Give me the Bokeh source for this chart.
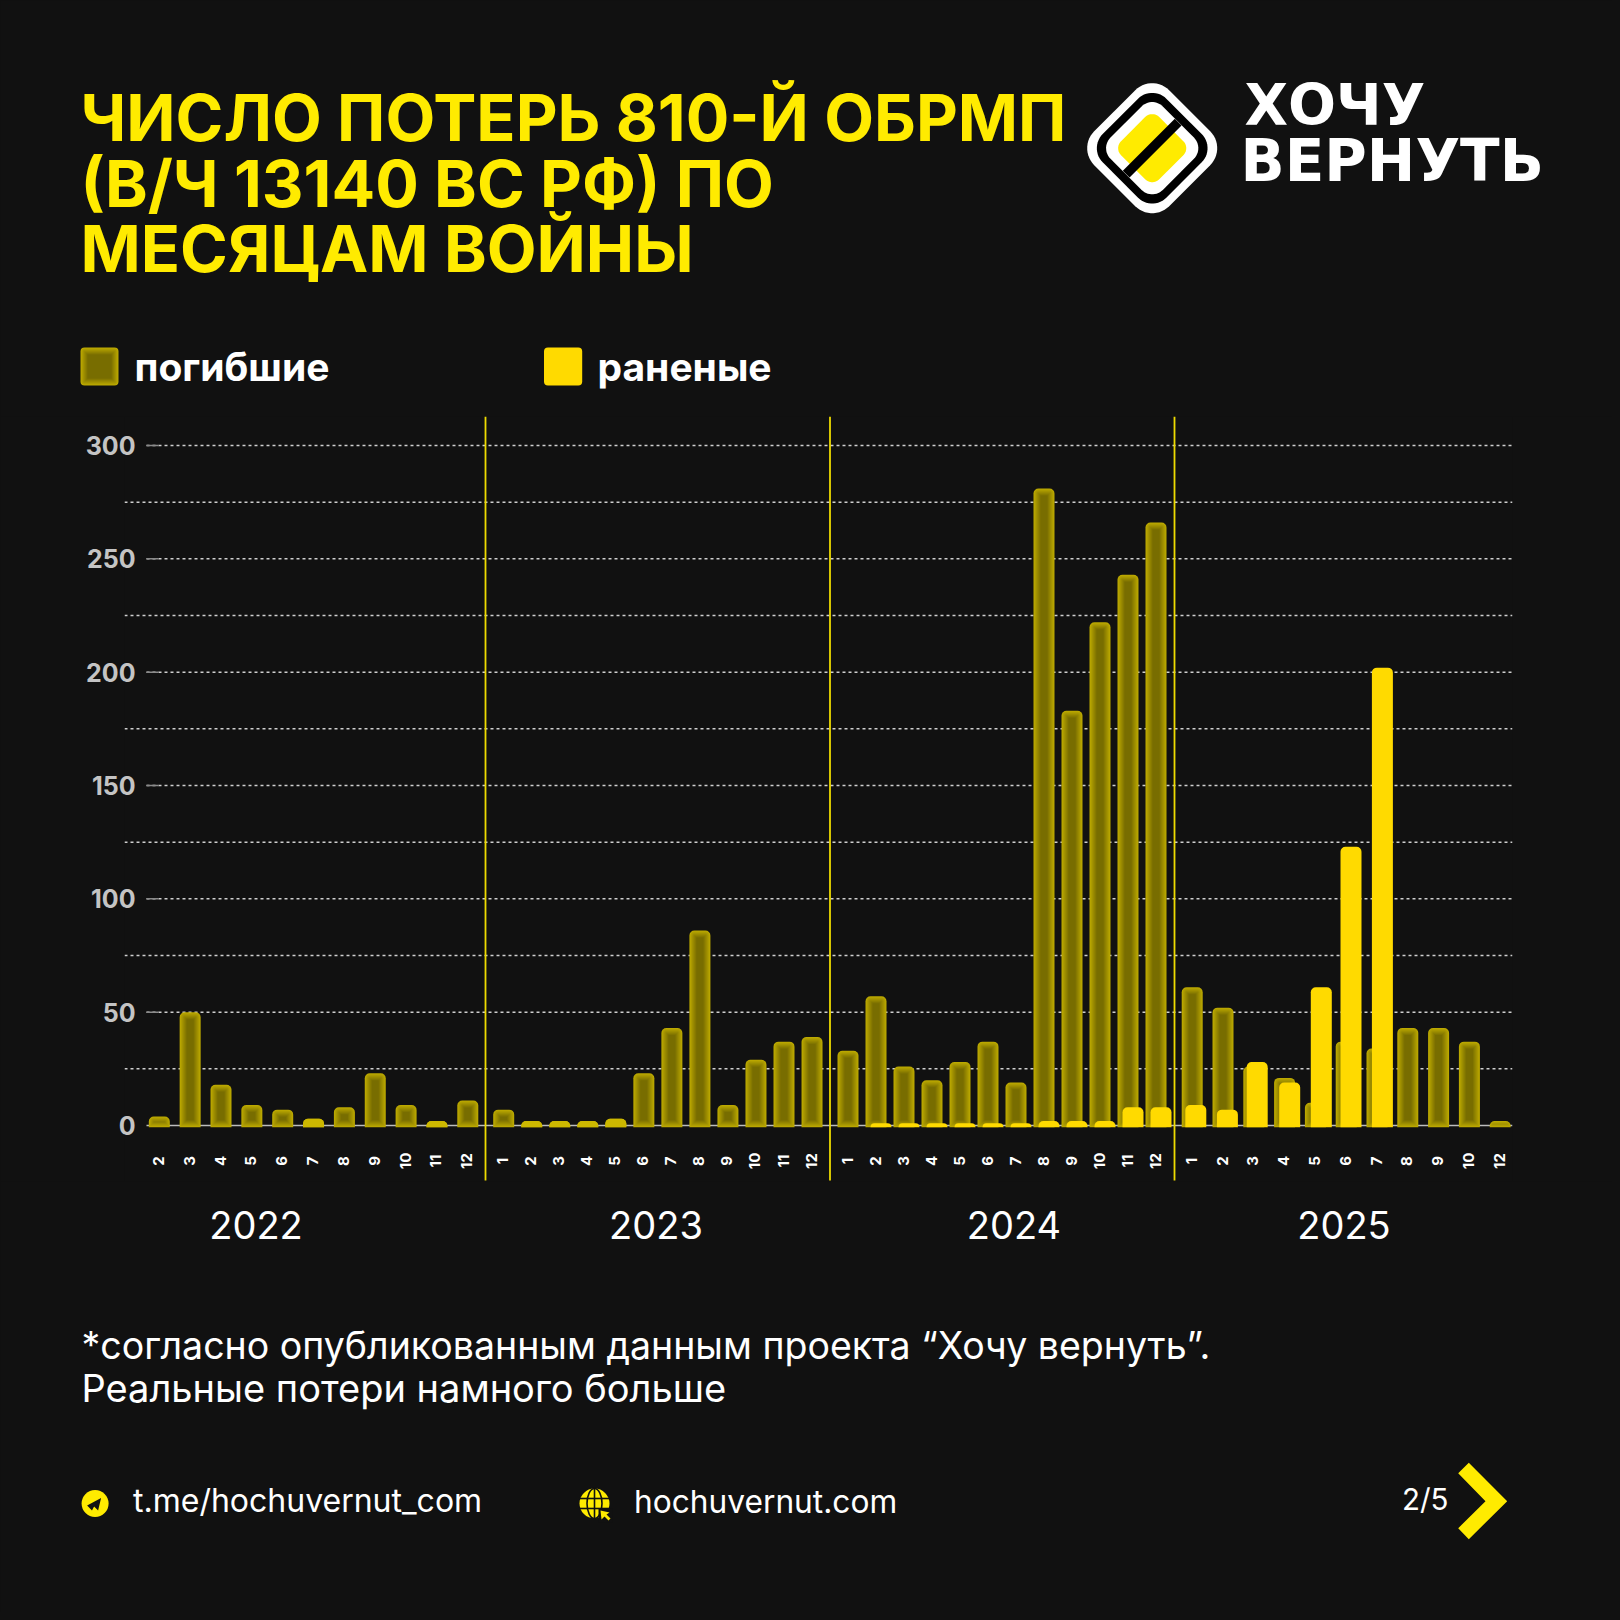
import numpy as np
from bokeh.core.properties import value
from bokeh.document import Document
from bokeh.embed import file_html
from bokeh.layouts import column, row
from bokeh.models import CustomJS, FixedTicker, LinearAxis, Range1d
from bokeh.plotting import figure
from bokeh.resources import INLINE

# ---- data ----
title_lines = ["ЧИСЛО ПОТЕРЬ 810-Й ОБРМП", "(В/Ч 13140 ВС РФ) ПО", "МЕСЯЦАМ ВОЙНЫ"]
logo_lines = ["ХОЧУ", "ВЕРНУТЬ"]
legend_labels = ["погибшие", "раненые"]
note_lines = ["*согласно опубликованным данным проекта “Хочу вернуть”.", "Реальные потери намного больше"]
footer_link1 = "t.me/hochuvernut_com"
footer_link2 = "hochuvernut.com"
page_label = "2/5"

years = [2022, 2023, 2024, 2025]
months_2022 = [2, 3, 4, 5, 6, 7, 8, 9, 10, 11, 12]
dead_2022 = [4, 50, 18, 9, 7, 3, 8, 23, 9, 2, 11]
wounded_2022 = [0, 0, 0, 0, 0, 0, 0, 0, 0, 0, 0]
months_2023 = [1, 2, 3, 4, 5, 6, 7, 8, 9, 10, 11, 12]
dead_2023 = [7, 2, 2, 2, 3, 23, 43, 86, 9, 29, 37, 39]
wounded_2023 = [0, 0, 0, 0, 0, 0, 0, 0, 0, 0, 0, 0]
months_2024 = [1, 2, 3, 4, 5, 6, 7, 8, 9, 10, 11, 12]
dead_2024 = [33, 57, 26, 20, 28, 37, 19, 281, 183, 222, 243, 266]
wounded_2024 = [0, 1, 1, 1, 1, 1, 1, 2, 2, 2, 8, 8]
months_2025 = [1, 2, 3, 4, 5, 6, 7, 8, 9, 10, 12]
dead_2025 = [61, 52, 26, 21, 10, 37, 34, 43, 43, 37, 2]
wounded_2025 = [9, 7, 28, 19, 61, 123, 202, 0, 0, 0, 0]
y_major = [0, 50, 100, 150, 200, 250, 300]
y_minor = [25, 75, 125, 175, 225, 275]

# ---- layout (reference pixels) ----
BG = "#111111"
YEL = "#FFEB00"
WOUND = "#FFDA00"
W, H0, H1, H2 = 1612, 416, 765, 431
BASE, PX = 1125.0, 2.2667
x_start = {2022: 158.8, 2023: 503.2, 2024: 847.5, 2025: 1191.7}
x_step = {2022: 30.85, 2023: 28.03, 2024: 28.0, 2025: 30.8}
wound_dx = {2024: [5] * 12, 2025: [3.6, 4.4, 3.4, 5.1, 5.9, 4.8, 5.4, 5, 5, 5, 5]}
year_cx = [256, 656, 1014, 1344]
BAR_W = 21
BASELINE_ADJ = 0.36
table = {2022: (months_2022, dead_2022, wounded_2022), 2023: (months_2023, dead_2023, wounded_2023),
         2024: (months_2024, dead_2024, wounded_2024), 2025: (months_2025, dead_2025, wounded_2025)}


def px_fig(h, top):
    f = figure(width=W, height=h, x_range=Range1d(0, W), y_range=Range1d(top + h, top),
               x_axis_type=None, y_axis_type=None, toolbar_location=None, output_backend="svg",
               background_fill_color=BG, border_fill_color=BG, outline_line_color=None, min_border=0)
    f.grid.visible = False
    return f


def txt(f, x, y, s, size, color="#FFFFFF", style="normal", align="left", font="Inter"):
    f.text(x=[x], y=[y - BASELINE_ADJ * size], text=[s], text_font=value(font), text_font_size=f"{size}px",
           text_font_style=style, text_color=color, text_align=align, text_baseline="alphabetic")


def rsq(cx, cy, half, r, rot=45):
    pts = []
    for (sx, sy, a0) in [(1, 1, 0), (-1, 1, 90), (-1, -1, 180), (1, -1, 270)]:
        t = np.radians(np.linspace(a0, a0 + 90, 14))
        pts.append(np.c_[sx * (half - r) + r * np.cos(t), sy * (half - r) + r * np.sin(t)])
    pts = np.vstack(pts)
    a = np.radians(rot)
    return cx + pts[:, 0] * np.cos(a) - pts[:, 1] * np.sin(a), cy + pts[:, 0] * np.sin(a) + pts[:, 1] * np.cos(a)


def lerp(t):
    c0, c1 = (0xBC, 0xA9, 0x00), (0x78, 0x6D, 0x00)
    return "#%02x%02x%02x" % tuple(int(a + (b - a) * t) for a, b in zip(c0, c1))


# ---- header ----
head = px_fig(H0, 0)
for line, y in zip(title_lines, [140, 206, 271]):
    txt(head, 80, y, line, 64.7, YEL, "bold")
for half, r, col in [(53, 24, "#FFFFFF"), (45, 20, "#000000"), (37, 15, "#FFFFFF"), (27, 10, YEL)]:
    xs, ys = rsq(1151.7, 147.7, half, r)
    head.patch(xs, ys, fill_color=col, line_color=None)
head.line([1151.7 - 26, 1151.7 + 26], [147.7 + 26, 147.7 - 26], line_color="#000000", line_width=9.5)
txt(head, 1244, 125.7, logo_lines[0], 56.5, "#FFFFFF", "bold", font="DejaVu Sans")
txt(head, 1240, 181.7, logo_lines[1], 58, "#FFFFFF", "bold", font="DejaVu Sans")

# legend
for k in range(8):
    d = k * 1.0
    head.quad(left=[80 + d], right=[118 - d], top=[347 + d], bottom=[385 - d],
              fill_color=lerp(k / 7), line_color=None, border_radius=max(4 - k, 0))
head.quad(left=[543.5], right=[581.7], top=[347], bottom=[385], fill_color=WOUND, line_color=None, border_radius=4)
txt(head, 134, 380, legend_labels[0], 39, "#FFFFFF", "bold")
txt(head, 597, 380, legend_labels[1], 39, "#FFFFFF", "bold")

# ---- chart ----
chart = figure(width=W, height=H1, x_range=Range1d(124, 1512),
               y_range=Range1d((BASE - 1181) / PX, (BASE - 416) / PX),
               x_axis_type=None, y_axis_type=None, toolbar_location=None, output_backend="svg",
               background_fill_color=BG, border_fill_color=BG, outline_line_color=None,
               min_border_left=124, min_border_right=W - 1512, min_border_top=0, min_border_bottom=0)
chart.grid.visible = False

DASH = "3 3"
GRID = "#CFCFCF"
chart.segment(x0=[124] * len(y_minor), x1=[1512] * len(y_minor), y0=y_minor, y1=y_minor,
              line_color=GRID, line_width=1.5, line_dash=DASH)
maj = y_major[1:]
chart.segment(x0=[146] * len(maj), x1=[1512] * len(maj), y0=maj, y1=maj,
              line_color=GRID, line_width=1.5, line_dash=DASH)
chart.segment(x0=[146] * len(maj), x1=[158] * len(maj), y0=maj, y1=maj, line_color="#8A8A8A", line_width=1.5)
chart.segment(x0=[146], x1=[1512], y0=[0], y1=[0], line_color="#BDBDBD", line_width=1.6)

yaxis = LinearAxis(ticker=FixedTicker(ticks=y_major), axis_line_color=None, major_tick_line_color=None,
                   minor_tick_line_color=None, major_label_standoff=-17,
                   major_label_text_color="#C4C4C4", major_label_text_font="Inter",
                   major_label_text_font_style="bold", major_label_text_font_size="25px")
chart.add_layout(yaxis, "left")

BOTTOM = -1.7 / PX
for yr in years:
    months, dead, wounded = table[yr]
    xs = [x_start[yr] + i * x_step[yr] for i in range(len(months))]
    for k in range(8):
        idx = [i for i, v in enumerate(dead) if v - k / PX > BOTTOM + k / PX]
        if not idx:
            continue
        chart.vbar(x=[xs[i] for i in idx], width=BAR_W - 2 * k,
                   top=[dead[i] - k / PX for i in idx], bottom=BOTTOM + k / PX,
                   fill_color=lerp(k / 7), line_color=None, border_radius=(max(5 - k, 0), max(5 - k, 0), 0, 0))
    low = [i for i, v in enumerate(dead) if v <= 3]
    if low and yr != 2025:
        chart.vbar(x=[xs[i] for i in low], width=BAR_W, top=[dead[i] for i in low], bottom=BOTTOM,
                   fill_color="#CDB800", line_color=None, border_radius=(5, 5, 0, 0))
    if any(wounded):
        dx = wound_dx[yr]
        idx = [i for i, v in enumerate(wounded) if v > 0]
        chart.vbar(x=[xs[i] + dx[i] for i in idx], width=BAR_W, top=[wounded[i] for i in idx], bottom=BOTTOM,
                   fill_color=WOUND, line_color=None, border_radius=(5, 5, 0, 0))
    chart.text(x=[x - 1 for x in xs], y=[(BASE - 1160.5) / PX] * len(xs), text=[str(m) for m in months], angle=np.pi / 2,
               text_font=value("Inter"), text_font_size="15px", text_font_style="bold",
               text_color="#FFFFFF", text_align="center", text_baseline="middle")

for x in [485, 829.5, 1174]:
    chart.segment(x0=[x], x1=[x], y0=[(BASE - 416) / PX], y1=[(BASE - 1180) / PX], line_color="#EEDB00", line_width=1.8)

# ---- footer ----
foot = px_fig(H2, H0 + H1)
for yr, cx in zip(years, year_cx):
    txt(foot, cx - 0.5, 1238, str(yr), 38, align="center")
txt(foot, 81, 1358.5, note_lines[0], 37.5)
txt(foot, 81, 1401.5, note_lines[1], 38)
# telegram icon
foot.circle(x=[94.6], y=[1503], radius=13.5, fill_color=YEL, line_color=None)
foot.patch([86.6, 100.6, 97.6, 93.6, 91.5], [1505, 1497.6, 1510, 1506, 1510], fill_color=BG, line_color=None)
txt(foot, 132.5, 1512, footer_link1, 32)
# globe icon
foot.circle(x=[594], y=[1503], radius=15, fill_color=YEL, line_color=None)
foot.ellipse(x=[594], y=[1503], width=15, height=30, fill_color=None, line_color=BG, line_width=1.6)
foot.segment(x0=[579, 579, 594], x1=[609, 609, 594], y0=[1498, 1508, 1488], y1=[1498, 1508, 1518],
             line_color=BG, line_width=1.6)
foot.patch([598, 612, 612, 598], [1508, 1508, 1522, 1522], fill_color=BG, line_color=None)
foot.patch([600, 609, 606, 610, 608, 604, 601], [1510, 1512, 1514, 1518, 1520, 1516, 1519], fill_color=YEL, line_color=None)
txt(foot, 633.5, 1512, footer_link2, 31.7)
txt(foot, 1401.5, 1509, page_label, 29.5)
foot.patch([1468.3, 1506.7, 1468.3, 1457.7, 1485, 1457.7], [1462.3, 1500.7, 1538.7, 1527.7, 1500.7, 1472.7],
           fill_color=YEL, line_color=None)

page = column(row(head), row(chart), row(foot), spacing=0)
p = Document()
p.add_root(page)
p.js_on_event("document_ready", CustomJS(code=f"document.body.style.background='{BG}';document.documentElement.style.background='{BG}';"))
open("out.html", "w").write(file_html(p, INLINE))
